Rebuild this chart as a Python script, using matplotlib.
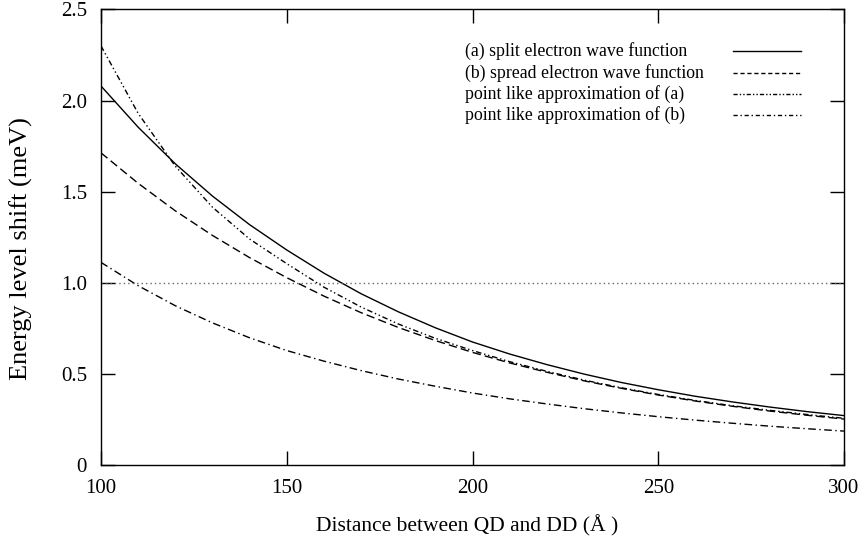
import matplotlib
matplotlib.use("Agg")
import matplotlib.pyplot as plt

plt.rcParams['font.family'] = ['Liberation Serif', 'DejaVu Serif']

# distance between QD and DD (Angstrom)
distance = [100, 110, 120, 130, 140, 150, 160, 170, 180, 190, 200,
            210, 220, 230, 240, 250, 260, 270, 280, 290, 300]

# energy level shift (meV)
split_wf = [2.080, 1.854, 1.653, 1.476, 1.319, 1.180, 1.053, 0.940, 0.841, 0.753, 0.675,
            0.609, 0.551, 0.499, 0.453, 0.413, 0.377, 0.346, 0.318, 0.293, 0.271]
spread_wf = [1.713, 1.546, 1.395, 1.260, 1.138, 1.028, 0.927, 0.836, 0.755, 0.683, 0.618,
             0.560, 0.509, 0.462, 0.421, 0.384, 0.351, 0.322, 0.296, 0.273, 0.252]
point_a = [2.300, 1.930, 1.640, 1.415, 1.240, 1.105, 0.976, 0.867, 0.774, 0.695, 0.628,
           0.567, 0.514, 0.466, 0.424, 0.387, 0.354, 0.325, 0.300, 0.277, 0.256]
point_b = [1.112, 0.984, 0.874, 0.780, 0.698, 0.628, 0.570, 0.518, 0.472, 0.432, 0.395,
           0.363, 0.335, 0.309, 0.286, 0.265, 0.246, 0.229, 0.213, 0.199, 0.186]

labels = ["(a) split electron wave function",
          "(b) spread electron wave function",
          "point like approximation of (a)",
          "point like approximation of (b)"]

styles = ['-', (0, (6, 3)), (0, (4, 2, 1, 2, 1, 2)), (0, (5.5, 2.5, 1, 2.5))]
key_styles = ['-', (0, (3, 2)), (0, (3, 1.5, 1, 1.5, 1, 1.5)), (0, (3, 2, 1, 2))]

fig = plt.figure(figsize=(8.61, 5.36), dpi=100)
ax = fig.add_axes([0.1173, 0.1325, 0.863, 0.8498])

lw = 1.0
for ys, ls in zip([split_wf, spread_wf, point_a, point_b], styles):
    ax.plot(distance, ys, color='black', lw=lw, linestyle=ls)

# reference line at 1 meV
ax.axhline(1.0, color='#666666', lw=1.0, linestyle=(0, (1, 2.2)))

ax.set_xlim(100, 300)
ax.set_ylim(0, 2.5)
ax.set_xticks([100, 150, 200, 250, 300])
ax.set_yticks([0, 0.5, 1.0, 1.5, 2.0, 2.5])
ax.set_yticklabels(["0", "0.5", "1.0", "1.5", "2.0", "2.5"])
ax.tick_params(direction='in', length=10, width=1, top=True, right=True,
               labelsize=15, pad=10)
for s in ax.spines.values():
    s.set_linewidth(1.0)

ax.set_xlabel("Distance between QD and DD (Å )", fontsize=15.5)
ax.xaxis.set_label_coords(0.493, -0.110)
ax.set_ylabel("Energy level shift (meV)", fontsize=19)
ax.yaxis.set_label_coords(-0.092, 0.476)

# gnuplot style key: text on the left, line sample on the right
key_y = [0.9078, 0.8610, 0.8143, 0.7675]
for lab, ls, y in zip(labels, key_styles, key_y):
    ax.text(0.4899, y, lab, transform=ax.transAxes, fontsize=12.8,
            ha='left', va='center')
    ax.plot([0.8506, 0.9421], [y, y], transform=ax.transAxes, color='black',
            lw=lw, linestyle=ls)

fig.savefig("out.png", dpi=100)
